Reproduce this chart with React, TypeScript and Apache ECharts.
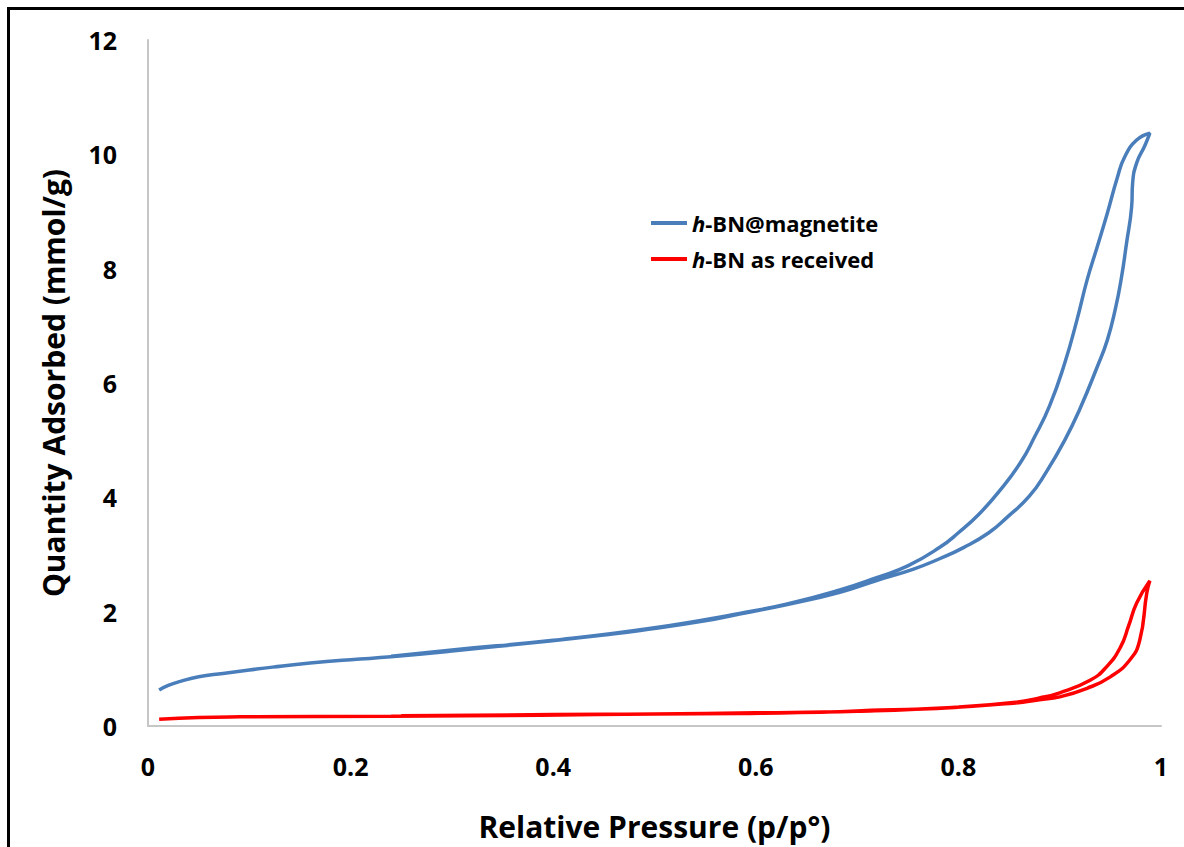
import React, { useEffect, useRef } from "react";
import * as echarts from "echarts";

const seriesNames = ["h-BN@magnetite", "h-BN as received"];

// h-BN@magnetite: adsorption branch then desorption branch (p/p°, mmol/g)
const magAdsX = [0.011, 0.02, 0.032, 0.05, 0.074, 0.1, 0.123, 0.16, 0.2, 0.24, 0.3, 0.387, 0.45, 0.486, 0.55, 0.584, 0.63, 0.683, 0.72, 0.755, 0.782, 0.805, 0.83, 0.848, 0.87, 0.887, 0.905, 0.92, 0.937, 0.947, 0.955, 0.961, 0.966, 0.971, 0.972, 0.976, 0.984, 0.989];
const magAdsY = [0.63, 0.71, 0.78, 0.86, 0.92, 0.98, 1.03, 1.1, 1.16, 1.21, 1.31, 1.47, 1.59, 1.67, 1.84, 1.96, 2.12, 2.34, 2.55, 2.74, 2.93, 3.12, 3.38, 3.65, 4.02, 4.45, 5.0, 5.55, 6.28, 6.75, 7.3, 7.85, 8.45, 9.08, 9.5, 9.85, 10.15, 10.37];
const magDesX = [0.976, 0.964, 0.957, 0.947, 0.937, 0.927, 0.917, 0.905, 0.89, 0.875, 0.861, 0.84, 0.82, 0.8, 0.782, 0.75, 0.72, 0.683, 0.63, 0.584, 0.5, 0.4, 0.3, 0.24];
const magDesY = [10.25, 9.95, 9.6, 8.97, 8.38, 7.8, 7.1, 6.35, 5.6, 5.05, 4.6, 4.1, 3.7, 3.38, 3.13, 2.8, 2.6, 2.38, 2.13, 1.97, 1.72, 1.5, 1.33, 1.22];

// h-BN as received
const bnAdsX = [0.011, 0.05, 0.091, 0.24, 0.387, 0.5, 0.584, 0.683, 0.723, 0.782, 0.854, 0.88, 0.9, 0.927, 0.95, 0.969, 0.979, 0.986, 0.989];
const bnAdsY = [0.12, 0.15, 0.16, 0.17, 0.19, 0.21, 0.22, 0.25, 0.28, 0.31, 0.4, 0.46, 0.51, 0.66, 0.86, 1.15, 1.5, 2.33, 2.54];
const bnDesX = [0.976, 0.968, 0.96, 0.946, 0.93, 0.9, 0.88, 0.854, 0.8, 0.7, 0.6, 0.5, 0.4, 0.25];
const bnDesY = [2.15, 1.75, 1.38, 1.03, 0.8, 0.58, 0.49, 0.41, 0.33, 0.26, 0.23, 0.21, 0.2, 0.18];

const xAxisTitle = "Relative Pressure (p/p°)";
const yAxisTitle = "Quantity Adsorbed (mmol/g)";

const FONT = "Open Sans";

function pairs(xs: number[], ys: number[]) {
  return xs.map((x, i) => [x, ys[i]]);
}

export default function App() {
  const ref = useRef<HTMLDivElement>(null);
  useEffect(() => {
    if (!ref.current) return;
    const chart = echarts.init(ref.current, null, { renderer: "svg" });
    const axisLine = { show: true, lineStyle: { color: "#c6c6c6", width: 2 } };
    chart.setOption({
      animation: false,
      backgroundColor: "#ffffff",
      grid: { left: 148, right: 23, top: 40, bottom: 121, containLabel: false },
      graphic: [
        {
          type: "rect",
          shape: { x: 8.5, y: 8.5, width: 1300, height: 1000 },
          style: { fill: "none", stroke: "#000", lineWidth: 3 },
          silent: true,
        },
      ],
      legend: {
        orient: "vertical",
        left: 646,
        top: 206,
        itemWidth: 36,
        itemHeight: 4,
        itemGap: 12,
        icon: "rect",
        data: seriesNames,
        formatter: (name: string) => `{i|${name.slice(0, 1)}}{n|${name.slice(1)}}`,
        textStyle: {
          fontFamily: FONT,
          fontWeight: "bold",
          fontSize: 22,
          lineHeight: 24,
          color: "#000",
          rich: {
            i: { fontFamily: FONT, fontWeight: "bold", fontStyle: "italic", fontSize: 22, lineHeight: 24, color: "#000" },
            n: { fontFamily: FONT, fontWeight: "bold", fontSize: 22, lineHeight: 24, color: "#000" },
          },
        },
      },
      xAxis: {
        type: "value",
        min: 0,
        max: 1,
        interval: 0.2,
        axisLine,
        axisTick: { show: false },
        splitLine: { show: false },
        axisLabel: { fontFamily: FONT, fontWeight: "bold", fontSize: 25, color: "#000", margin: 27 },
        name: xAxisTitle,
        nameLocation: "middle",
        nameGap: 85,
        nameTextStyle: { fontFamily: FONT, fontWeight: "bold", fontSize: 30, color: "#000" },
      },
      yAxis: {
        type: "value",
        min: 0,
        max: 12,
        interval: 2,
        axisLine,
        axisTick: { show: false },
        splitLine: { show: false },
        axisLabel: { fontFamily: FONT, fontWeight: "bold", fontSize: 25, color: "#000", margin: 31 },
        name: yAxisTitle,
        nameLocation: "middle",
        nameGap: 80,
        nameTextStyle: { fontFamily: FONT, fontWeight: "bold", fontSize: 30, color: "#000" },
      },
      series: [
        {
          name: seriesNames[0],
          type: "line",
          data: [...pairs(magAdsX, magAdsY), ...pairs(magDesX, magDesY)],
          showSymbol: false,
          smooth: 0.5,
          color: "#4a7ebb",
          lineStyle: { width: 3.5, color: "#4a7ebb" },
        },
        {
          name: seriesNames[1],
          type: "line",
          data: [...pairs(bnAdsX, bnAdsY), ...pairs(bnDesX, bnDesY)],
          showSymbol: false,
          smooth: 0.5,
          color: "#ff0000",
          lineStyle: { width: 3.5, color: "#ff0000" },
        },
      ],
    });
    return () => chart.dispose();
  }, []);
  return (
    <div
      ref={ref}
      style={{ position: "fixed", left: 0, top: 0, width: 1184, height: 847, background: "#fff" }}
    />
  );
}
